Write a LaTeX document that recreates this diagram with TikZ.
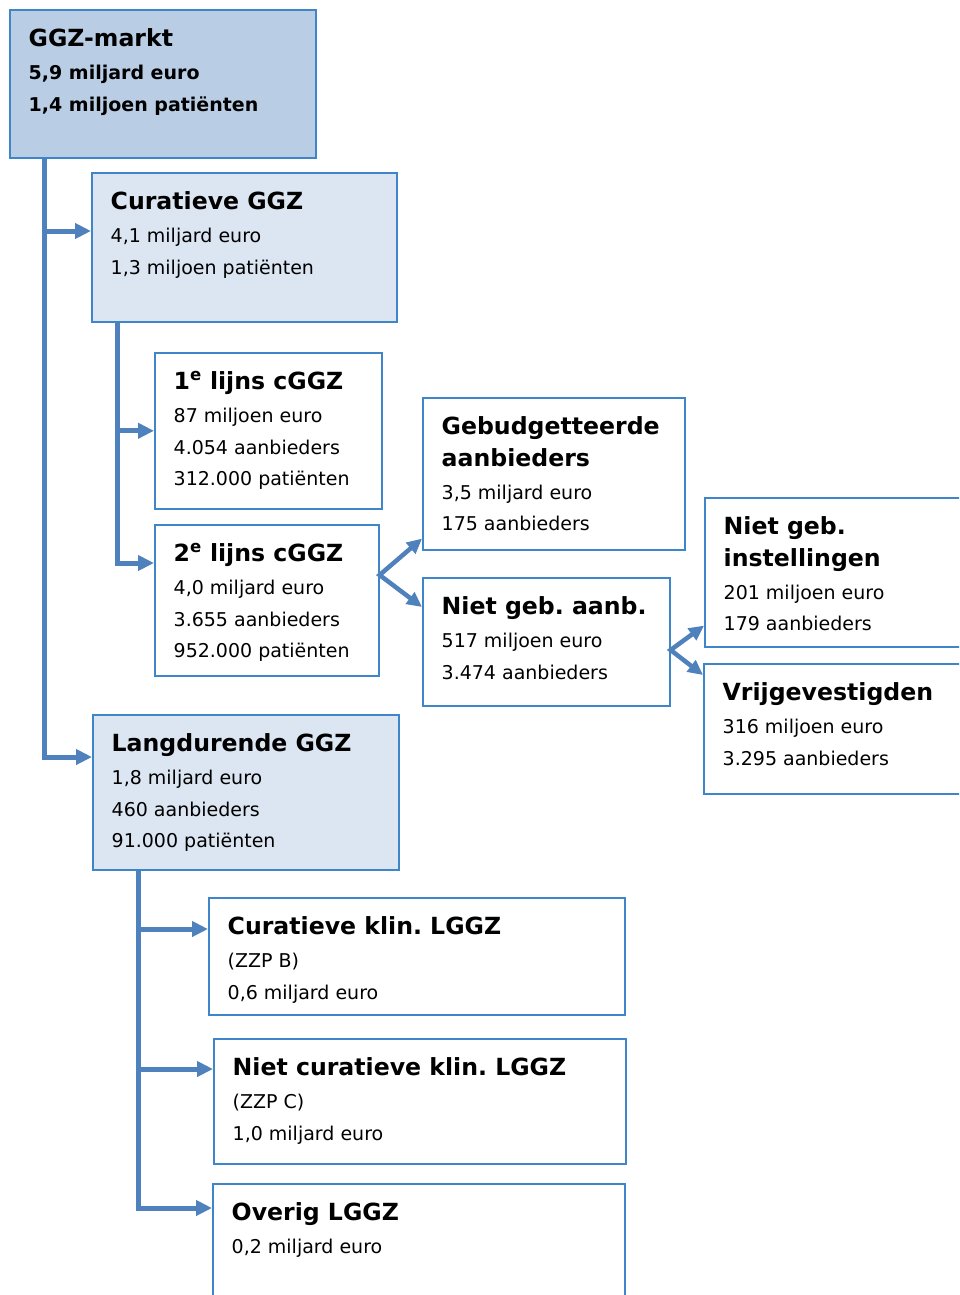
\documentclass[tikz,border=0pt]{standalone}
\usepackage{fontspec}
\setmainfont{DejaVu Sans}
\usetikzlibrary{arrows.meta, positioning}

\definecolor{ggzline}{HTML}{3F85C9}
\definecolor{ggzarrow}{HTML}{4F81BD}
\definecolor{ggzdark}{HTML}{B9CDE5}
\definecolor{ggzlight}{HTML}{DCE6F2}

\newcommand{\kop}{\bfseries\fontsize{23.6}{31.5}\selectfont}
\newcommand{\sut}{\rule{0pt}{20pt}}

\begin{document}
\frenchspacing
\begin{tikzpicture}[x=1pt, y=-1pt,
    box/.style = {draw=ggzline, line width=1.6pt, fill=white, anchor=north west, inner sep=0pt},
    txt/.style = {inner sep=0pt, align=left, font=\fontsize{19}{31.5}\selectfont},
    link/.style = {draw=ggzarrow, line width=5pt, -{Triangle[length=16pt,width=15pt]}},
    fork/.style = {draw=ggzarrow, line width=4.5pt, {Triangle[length=15pt,width=14pt]}-{Triangle[length=15pt,width=14pt]}}
    ]

  \clip (0,0) rectangle (959,1295);
  \fill[white] (0,0) rectangle (959,1295);

  % Boxes
  \node[box, fill=ggzdark, minimum width=306pt, minimum height=148pt] (ggz) at (9,9) {};
  \node[box, fill=ggzlight, minimum width=305pt, minimum height=149pt] (cur) at (91,172) {};
  \node[box, minimum width=227pt, minimum height=156pt] (e1) at (154,352) {};
  \node[box, minimum width=224pt, minimum height=151pt] (e2) at (154,524) {};
  \node[box, minimum width=262pt, minimum height=152pt] (geb) at (422,397) {};
  \node[box, minimum width=247pt, minimum height=128pt] (nga) at (422,577) {};
  \node[box, minimum width=280pt, minimum height=149pt] (ngi) at (704,497) {};
  \node[box, minimum width=280pt, minimum height=130pt] (vrij) at (703,663) {};
  \node[box, fill=ggzlight, minimum width=306pt, minimum height=155pt] (lgz) at (92,714) {};
  \node[box, minimum width=416pt, minimum height=117pt] (ckl) at (208,897) {};
  \node[box, minimum width=412pt, minimum height=125pt] (nck) at (213,1038) {};
  \node[box, minimum width=412pt, minimum height=140pt] (ovr) at (212,1183) {};

  % Texts
  \node[txt, below right=17.5pt and 19.5pt of ggz.north west, font=\fontsize{19}{31.5}\selectfont\bfseries] (ggz-t)
    {\sut{\kop GGZ-markt}\\[1.5pt] 5,9 miljard euro\\ 1,4 miljoen patiënten};
  \node[txt, below right=17.5pt and 19.5pt of cur.north west] (cur-t)
    {\sut{\kop Curatieve GGZ}\\[1.5pt] 4,1 miljard euro\\ 1,3 miljoen patiënten};
  \node[txt, below right=17.5pt and 19.5pt of e1.north west] (e1-t)
    {\sut{\kop 1\textsuperscript{e} lijns cGGZ}\\[1.5pt] 87 miljoen euro\\ 4.054 aanbieders\\ 312.000 patiënten};
  \node[txt, below right=17.5pt and 19.5pt of e2.north west] (e2-t)
    {\sut{\kop 2\textsuperscript{e} lijns cGGZ}\\[1.5pt] 4,0 miljard euro\\ 3.655 aanbieders\\ 952.000 patiënten};
  \node[txt, below right=17.5pt and 19.5pt of geb.north west] (geb-t)
    {\sut{\kop Gebudgetteerde}\\{\kop aanbieders}\\[1.5pt] 3,5 miljard euro\\ 175 aanbieders};
  \node[txt, below right=17.5pt and 19.5pt of nga.north west] (nga-t)
    {\sut{\kop Niet geb. aanb.}\\[1.5pt] 517 miljoen euro\\ 3.474 aanbieders};
  \node[txt, below right=17.5pt and 19.5pt of ngi.north west] (ngi-t)
    {\sut{\kop Niet geb.}\\{\kop instellingen}\\[1.5pt] 201 miljoen euro\\ 179 aanbieders};
  \node[txt, below right=17.5pt and 19.5pt of vrij.north west] (vrij-t)
    {\sut{\kop Vrijgevestigden}\\[1.5pt] 316 miljoen euro\\ 3.295 aanbieders};
  \node[txt, below right=17.5pt and 19.5pt of lgz.north west] (lgz-t)
    {\sut{\kop Langdurende GGZ}\\[1.5pt] 1,8 miljard euro\\ 460 aanbieders\\ 91.000 patiënten};
  \node[txt, below right=17.5pt and 19.5pt of ckl.north west] (ckl-t)
    {\sut{\kop Curatieve klin. LGGZ}\\[1.5pt] (ZZP B)\\ 0,6 miljard euro};
  \node[txt, below right=17.5pt and 19.5pt of nck.north west] (nck-t)
    {\sut{\kop Niet curatieve klin. LGGZ}\\[1.5pt] (ZZP C)\\ 1,0 miljard euro};
  \node[txt, below right=17.5pt and 19.5pt of ovr.north west] (ovr-t)
    {\sut{\kop Overig LGGZ}\\[1.5pt] 0,2 miljard euro};

  % Links
  \coordinate (k1) at ([xshift=35pt]ggz.south west);
  \coordinate (a1) at ([yshift=-59pt]cur.north west);
  \draw[link] (k1) |- ([yshift=-43pt]lgz.north west);
  \draw[link] (k1 |- a1) -- (a1);

  \coordinate (k2) at ([xshift=26pt]cur.south west);
  \draw[link] (k2) |- ([yshift=-39pt]e2.north west);
  \draw[link] (k2 |- e1.west) -- (e1.west);

  \coordinate (k3) at ([xshift=46pt]lgz.south west);
  \coordinate (b1) at ([yshift=-32pt]ckl.north west);
  \coordinate (b2) at ([yshift=-31pt]nck.north west);
  \draw[link] (k3) |- ([yshift=-25pt]ovr.north west);
  \draw[link] (k3 |- b1) -- (b1);
  \draw[link] (k3 |- b2) -- (b2);

  \draw[fork] ([yshift=12pt]geb.south west) -- ([yshift=-51pt]e2.north east) -- ([yshift=-30pt]nga.north west);
  \draw[fork] ([yshift=22pt]ngi.south west) -- ([yshift=-73pt]nga.north east) -- ([yshift=-12pt]vrij.north west);

\end{tikzpicture}
\end{document}
